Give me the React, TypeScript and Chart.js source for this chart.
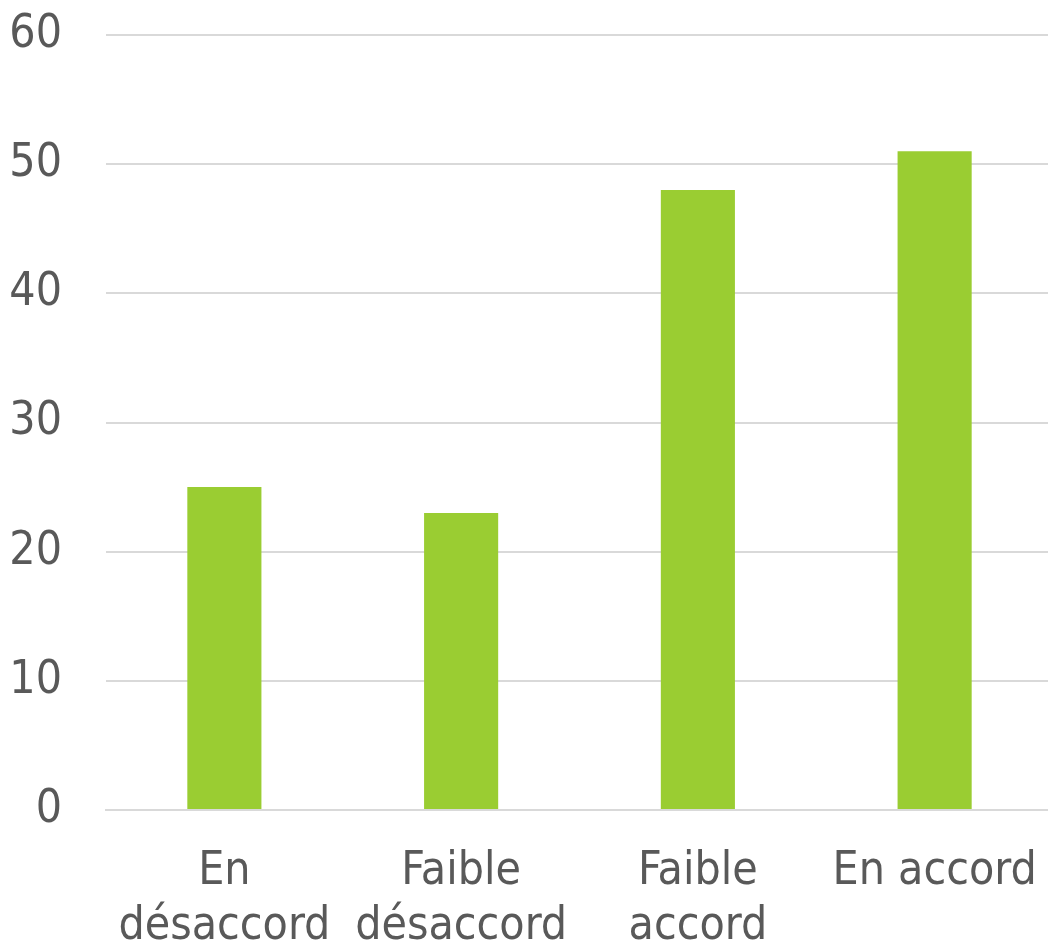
import React, { useEffect, useRef } from "react";
import { Chart, registerables } from "chart.js";

Chart.register(...registerables);

const categories: string[][] = [["En", "désaccord"], ["Faible", "désaccord"], ["Faible", "accord"], ["En accord"]];
const values: number[] = [25, 23, 48, 51];
const yTicks: number[] = [0, 10, 20, 30, 40, 50, 60];

const FONT = "'DejaVu Sans Condensed', 'DejaVu Sans', sans-serif";

export default function App() {
  const ref = useRef<HTMLCanvasElement | null>(null);
  useEffect(() => {
    if (!ref.current) return;
    const chart = new Chart(ref.current, {
      type: "bar",
      data: {
        labels: categories,
        datasets: [
          {
            data: values,
            backgroundColor: "#9ACD32",
            barPercentage: 1,
            categoryPercentage: 0.313,
          },
        ],
      },
      options: {
        animation: false,
        responsive: false,
        maintainAspectRatio: false,
        layout: { padding: { top: 35, right: 0, bottom: 0, left: 0 } },
        plugins: { legend: { display: false }, tooltip: { enabled: false } },
        scales: {
          x: {
            grid: { display: false, drawTicks: false },
            border: { display: true, color: "#d9d9d9", width: 2 },
            ticks: {
              color: "#595959",
              font: { family: FONT, size: 46, lineHeight: 1.2 },
              padding: 34,
              maxRotation: 0,
              autoSkip: false,
            },
            afterFit: (s: any) => {
              s.height = 133;
              s.paddingLeft = 0;
              s.paddingRight = 0;
            },
          },
          y: {
            min: 0,
            max: 60,
            afterBuildTicks: (s: any) => {
              s.ticks = yTicks.map((v) => ({ value: v }));
            },
            grid: { color: "#d9d9d9", lineWidth: 2, drawTicks: false },
            border: { display: false },
            ticks: {
              color: "#595959",
              font: { family: FONT, size: 46 },
              padding: 44,
            },
            afterFit: (s: any) => {
              s.width = 106;
              s.paddingTop = 0;
              s.paddingBottom = 0;
            },
          },
        },
      },
    });
    return () => chart.destroy();
  }, []);
  return (
    <div style={{ position: "fixed", left: 0, top: 0, width: 1048, height: 943, background: "#fff", overflow: "hidden" }}>
      <canvas ref={ref} width={1053} height={943} style={{ width: 1053, height: 943, display: "block" }} />
    </div>
  );
}
